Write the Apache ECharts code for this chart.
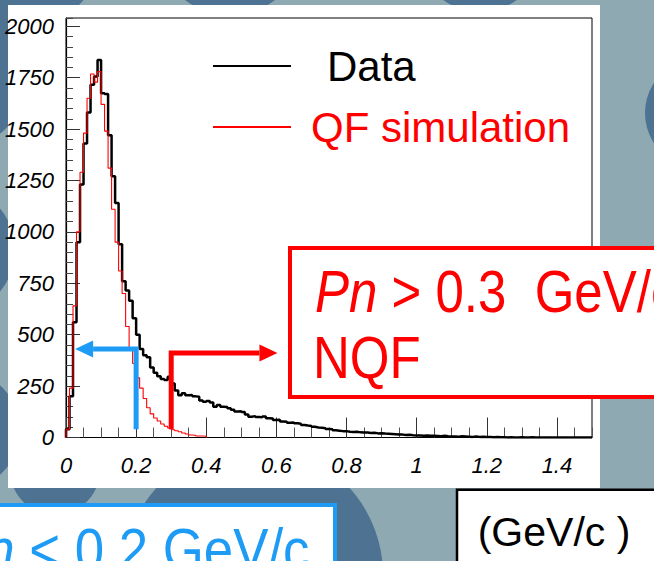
<!DOCTYPE html>
<html><head><meta charset="utf-8">
<script src="https://cdn.jsdelivr.net/npm/echarts@6/dist/echarts.min.js"></script>
<style>html,body{margin:0;padding:0;background:#8EA9B1;overflow:hidden}#c{width:654px;height:561px}</style>
</head><body><div id="c"></div>
<script>
// ---- data ----
const binWidth = 0.01;            // GeV/c per bin
const xRange = [0, 1.5];
const yRange = [0, 2040];
const seriesNames = ['Data', 'QF simulation'];
const dataCounts = [
  40, 200, 560, 950, 1230, 1430, 1580, 1715, 1755, 1836,
  1674, 1670, 1470, 1270, 1140, 940, 760, 715, 665, 580,
  500, 430, 400, 390, 340, 315, 298, 285, 280, 296,
  262, 228, 205, 215, 205, 207, 200, 198, 180, 174,
  178, 170, 150, 158, 150, 148, 142, 135, 126, 128,
  124, 112, 101, 104, 100, 98, 102, 94, 92, 85,
  86, 78, 77, 72, 73, 69, 67, 61, 58, 56,
  52, 49, 47, 45, 41, 40, 35, 33, 31, 31,
  28, 27, 28, 25, 24, 24, 22, 23, 20, 21,
  19, 18, 17, 16, 15, 14, 12, 13, 11, 10,
  10, 9, 10, 8, 8, 7, 6, 8, 6, 5,
  5, 4, 6, 5, 4, 3, 5, 3, 4, 2,
  2, 1, 2, 1, 1, 0, 1, 0, 0, 1,
  0, 0, 1, 0, 0, 0, 0, 0, 0, 0,
  0, 0, 0, 0, 0, 0, 0, 0, 0, 0
];
const simCounts = [
  40, 240, 640, 1000, 1290, 1480, 1650, 1768, 1728, 1779,
  1620, 1490, 1310, 1110, 950, 810, 700, 540, 430, 360,
  290, 240, 190, 145, 115, 95, 80, 66, 55, 46,
  38, 33, 28, 22, 17, 12, 11, 7, 7, 6
];
const xTickValues = [0, 0.2, 0.4, 0.6, 0.8, 1, 1.2, 1.4];
const yTickValues = [0, 250, 500, 750, 1000, 1250, 1500, 1750, 2000];
const cutLow = 0.2;   // Pn < 0.2 GeV/c
const cutHigh = 0.3;  // Pn > 0.3 GeV/c
const texts = {
  high: ['Pn', ' > 0.3\u00A0 GeV/c', 'NQF'],
  low: ['Pn', ' < 0.2 GeV/c'],
  unit: '(GeV/c )'
};

// ---- layout / style ----
const sans = "'Liberation Sans',Arial,sans-serif";
const BLUE = '#1E9BF5', RED = '#FF0000', DARK = '#4E7292', LIGHT = '#8EA9B1';

function histPoints(counts, bw) {
  const pts = [[0, 0]];
  counts.forEach((c, i) => pts.push([i * bw, c]));
  pts.push([counts.length * bw, 0]);
  return pts;
}

const chart = echarts.init(document.getElementById('c'), null, {renderer: 'svg', width: 654, height: 561});
const labelFont = {fontFamily: sans, fontStyle: 'italic', fontSize: 22, color: '#000'};

chart.setOption({
  animation: false,
  backgroundColor: LIGHT,
  grid: {left: 66, top: 18, width: 526, height: 419.5, show: true, borderColor: '#000', borderWidth: 1, backgroundColor: 'transparent'},
  legend: {
    orient: 'vertical', left: 208, top: 36, itemWidth: 78, itemHeight: 2, itemGap: 11,
    icon: 'rect', selectedMode: false,
    textStyle: {fontFamily: sans, fontSize: 42, lineHeight: 50,
      rich: {a: {fontFamily: sans, fontSize: 42, color: '#000', padding: [0, 0, 0, 31]},
             b: {fontFamily: sans, fontSize: 42, color: RED, padding: [0, 0, 0, 15]}}},
    formatter: n => n === seriesNames[0] ? '{a|' + n + '}' : '{b|' + n + '}',
    data: [seriesNames[0], seriesNames[1]]
  },
  xAxis: [
    {type: 'value', min: xRange[0], max: xRange[1], interval: 0.05,
     axisLine: {show: true, lineStyle: {color: '#000', width: 1.2}},
     axisTick: {show: true, inside: true, length: 10, lineStyle: {color: '#555'}},
     axisLabel: {show: false}, splitLine: {show: false}},
    {type: 'value', min: xRange[0], max: xRange[1], interval: 0.2, position: 'bottom',
     axisLine: {show: false},
     axisTick: {show: true, inside: true, length: 20, lineStyle: {color: '#333'}},
     axisLabel: Object.assign({show: true, margin: 17, showMaxLabel: false,
       formatter: v => String(+(+v).toFixed(2))}, labelFont),
     splitLine: {show: false}}
  ],
  yAxis: [
    {type: 'value', min: yRange[0], max: yRange[1], interval: 50, position: 'left',
     axisLine: {show: true, lineStyle: {color: '#000', width: 1.2}},
     axisTick: {show: true, inside: true, length: 7, lineStyle: {color: '#444'}},
     axisLabel: {show: false}, splitLine: {show: false}},
    {type: 'value', min: yRange[0], max: yRange[1], interval: 250, position: 'left', offset: 0,
     axisLine: {show: false},
     axisTick: {show: true, inside: true, length: 14, lineStyle: {color: '#333'}},
     axisLabel: Object.assign({show: true, margin: 12, showMaxLabel: false,
       formatter: v => String(v)}, labelFont),
     splitLine: {show: false}}
  ],
  series: [
    {name: seriesNames[0], type: 'line', step: 'end', symbol: 'none', showSymbol: false, xAxisIndex: 0, yAxisIndex: 0,
     data: histPoints(dataCounts, binWidth), lineStyle: {color: '#000', width: 2.5}, itemStyle: {color: '#000'}, z: 3},
    {name: seriesNames[1], type: 'line', step: 'end', symbol: 'none', showSymbol: false, xAxisIndex: 0, yAxisIndex: 0,
     data: histPoints(simCounts, binWidth), lineStyle: {color: RED, width: 1.1}, itemStyle: {color: RED}, z: 4}
  ]
});

// annotation anchors in data coordinates
const P = (x, y) => chart.convertToPixel({xAxisIndex: 0, yAxisIndex: 0}, [x, y]);
const blueTop = P(cutLow, 430), blueBot = P(cutLow, 40), blueTip = P(0.026, 430);
const redTop = P(cutHigh, 411), redBot = P(cutHigh, 40), redTip = P(0.603, 411);
const headLen = 18, headHalf = 8.5;

function bgCircle(cx, cy, r) { return {type: 'circle', shape: {cx, cy, r}, style: {fill: DARK}, z: -100, silent: true}; }
function richLine(parts) {
  return '{i|' + parts[0] + '}{n|' + parts[1] + '}';
}
const bigRich = c => ({i: {fontFamily: sans, fontSize: 60, fontStyle: 'italic', fill: c, color: c},
                       n: {fontFamily: sans, fontSize: 60, fill: c, color: c}});

const g = [
  bgCircle(-60, 60, 95), bgCircle(30, -45, 70), bgCircle(230, -60, 75), bgCircle(480, -50, 62),
  bgCircle(-50, 250, 65), bgCircle(-40, 430, 60), bgCircle(55, 470, 45), bgCircle(253, 575, 130),
  bgCircle(700, 113, 55),
  {type: 'rect', shape: {x: 8, y: 5, width: 592, height: 483}, style: {fill: '#fff'}, z: -90, silent: true},
  // blue cut marker
  {type: 'polyline', shape: {points: [blueBot, blueTop, [blueTip[0] + headLen, blueTop[1]]]},
   style: {stroke: BLUE, lineWidth: 5, fill: null, lineJoin: 'miter'}, z: 50},
  {type: 'polygon', shape: {points: [blueTip, [blueTip[0] + headLen, blueTip[1] - headHalf], [blueTip[0] + headLen, blueTip[1] + headHalf]]},
   style: {fill: BLUE}, z: 50},
  // red cut marker
  {type: 'polyline', shape: {points: [redBot, redTop, [redTip[0] - headLen, redTop[1]]]},
   style: {stroke: RED, lineWidth: 5, fill: null, lineJoin: 'miter'}, z: 50},
  {type: 'polygon', shape: {points: [redTip, [redTip[0] - headLen, redTip[1] - headHalf], [redTip[0] - headLen, redTip[1] + headHalf]]},
   style: {fill: RED}, z: 50},
  // red box
  {type: 'rect', shape: {x: 290, y: 248, width: 420, height: 149}, style: {fill: '#fff', stroke: RED, lineWidth: 4}, z: 60},
  {type: 'text', x: 315, y: 292, scaleX: 0.85, style: {text: richLine(texts.high), rich: bigRich(RED),
    fill: RED, font: '60px ' + sans, verticalAlign: 'middle', textVerticalAlign: 'middle'}, z: 61},
  {type: 'text', x: 313, y: 358, scaleX: 0.85, style: {text: texts.high[2], fill: RED, font: '60px ' + sans,
    verticalAlign: 'middle', textVerticalAlign: 'middle'}, z: 61},
  // blue box
  {type: 'rect', shape: {x: -10, y: 505, width: 345, height: 110}, style: {fill: '#fff', stroke: BLUE, lineWidth: 4}, z: 60},
  {type: 'text', x: -50, y: 549, scaleX: 0.88, style: {text: richLine(texts.low), rich: bigRich(BLUE),
    fill: BLUE, font: '60px ' + sans, verticalAlign: 'middle', textVerticalAlign: 'middle'}, z: 61},
  // unit box
  {type: 'rect', shape: {x: 457, y: 489.7, width: 250, height: 100}, style: {fill: '#fff', stroke: '#000', lineWidth: 2.5}, z: 60},
  {type: 'text', x: 554, y: 532, style: {text: texts.unit, fill: '#000', font: '41px ' + sans,
    align: 'center', textAlign: 'center', verticalAlign: 'middle', textVerticalAlign: 'middle'}, z: 61}
];
chart.setOption({graphic: g});
</script></body></html>
